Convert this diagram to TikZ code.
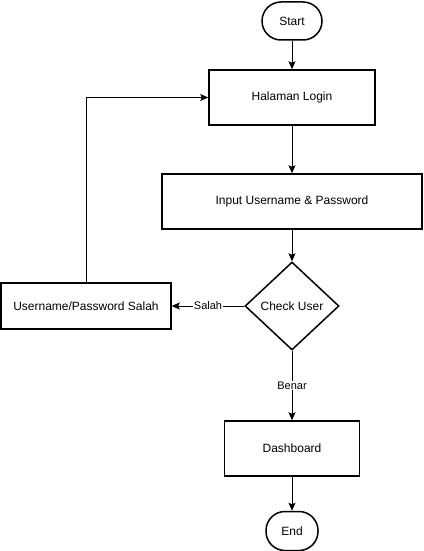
\documentclass[tikz,border=0pt]{standalone}
\usepackage{fontspec}
\setmainfont{Liberation Sans}
\usetikzlibrary{arrows.meta, positioning, shapes.geometric}

\begin{document}
\begin{tikzpicture}[
    x=1pt, y=-1pt,
    >={Stealth[length=8pt, width=7pt, inset=1.5pt]},
    box/.style={draw, line width=1.5pt, minimum width=#1, minimum height=55pt, inner sep=0pt, font=\fontsize{12}{14}\selectfont},
    term/.style={draw, line width=1.5pt, rounded corners=19pt, minimum width=#1, minimum height=38pt, inner sep=0pt, font=\fontsize{12}{14}\selectfont},
    decision/.style={draw, diamond, aspect=1.07, line width=1.5pt, minimum width=94pt, minimum height=88pt, inner sep=0pt, font=\fontsize{12}{14}\selectfont},
    flow/.style={->, line width=1pt},
    lbl/.style={fill=white, inner sep=1pt, font=\fontsize{11}{13}\selectfont}
  ]

  \useasboundingbox (0,0) rectangle (423,551);

  % Nodes
  \node[term=60pt] (start) at (292,21) {Start};
  \node[box=166pt] (login) at (292,97.5) {Halaman Login};
  \node[box=260pt] (input) at (292,201.5) {Input Username \& Password};
  \node[decision] (check) at (292,306) {Check User};
  \node[box=170pt, minimum height=46pt] (wrong) at (86,306) {Username/Password Salah};
  \node[box=135pt] (dash) at (292,448.5) {Dashboard};
  \node[term=52pt, minimum height=39pt] (finish) at (292,531) {End};

  % Connectors
  \draw[flow] (start) -- (login);
  \draw[flow] (login) -- (input);
  \draw[flow] (input) -- (check);
  \draw[flow] (check) -- node[lbl] {Salah} (wrong);
  \draw[flow] (check) -- node[lbl] {Benar} (dash);
  \draw[flow] (dash) -- (finish);
  \draw[flow] (wrong.north) -- (wrong.north |- login.west) -- (login.west);

\end{tikzpicture}
\end{document}
